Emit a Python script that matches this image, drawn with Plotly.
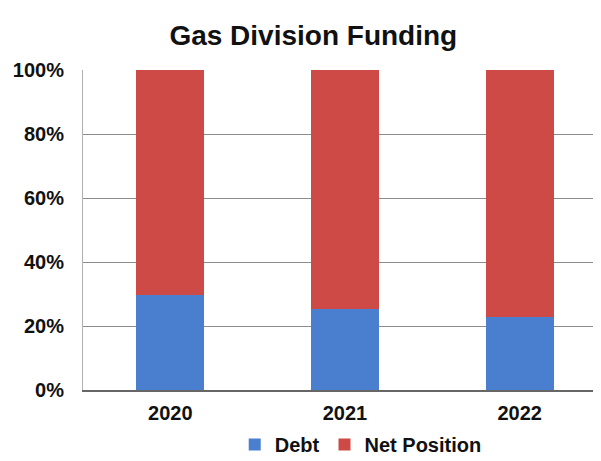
import plotly.graph_objects as go

years = ["2020", "2021", "2022"]
debt = [29.7, 25.2, 22.9]
net_position = [70.3, 74.8, 77.1]
y_ticks = [0, 20, 40, 60, 80, 100]
y_labels = ["0%", "20%", "40%", "60%", "80%", "100%"]

blue = "#4a7fcf"
red = "#cd4a47"
family = "Liberation Sans, Arial, sans-serif"
font = dict(family=family, size=20, color="#111111", weight="bold")

fig = go.Figure()

fig.add_trace(go.Bar(x=years, y=debt, name="Debt", marker_color=blue, marker_line_width=0))
fig.add_trace(go.Bar(x=years, y=net_position, name="Net Position", marker_color=red, marker_line_width=0))

# page is drawn with an 8px offset, margins take that into account
fig.update_layout(
    width=601, height=461,
    barmode="stack",
    bargap=0.61,
    plot_bgcolor="white",
    paper_bgcolor="white",
    font=font,
    margin=dict(l=75, r=2, t=62, b=79, autoexpand=False),
    title=dict(text="Gas Division Funding", x=0.508, xanchor="center",
               y=1 - 27 / 461, yref="container", yanchor="middle",
               font=dict(size=28, family=family, color="#111111", weight="bold")),
    legend=dict(orientation="h", x=0.53, xanchor="center", y=-0.17, yanchor="middle",
                font=font, traceorder="normal", itemwidth=30, tracegroupgap=0),
)

fig.update_yaxes(range=[0, 100], tickvals=y_ticks, ticktext=y_labels,
                 showgrid=True, gridcolor="#8c8c8c", gridwidth=1.2, zeroline=False,
                 showline=True, linecolor="#b0b0b0", linewidth=1, ticks="",
                 ticklabelstandoff=14)
fig.update_xaxes(showline=True, linecolor="#666666", linewidth=1.5, ticks="",
                 ticklabelstandoff=4)

fig.write_html("out.html")
